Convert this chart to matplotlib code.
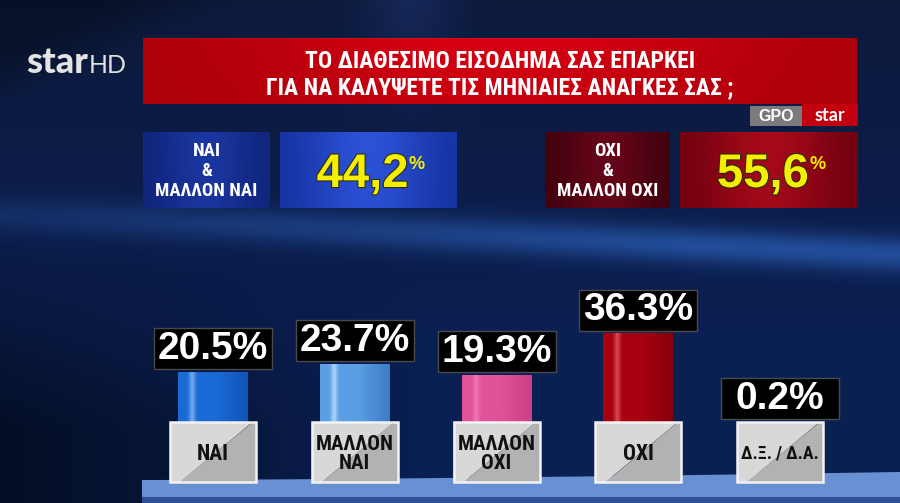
import numpy as np
import matplotlib
matplotlib.use("Agg")
import matplotlib.pyplot as plt
import matplotlib.colors as mcolors
from matplotlib import font_manager as fm
from matplotlib.patches import Rectangle, Polygon
import matplotlib.patheffects as pe

title_lines = ["ΤΟ ΔΙΑΘΕΣΙΜΟ ΕΙΣΟΔΗΜΑ ΣΑΣ ΕΠΑΡΚΕΙ",
               "ΓΙΑ ΝΑ ΚΑΛΥΨΕΤΕ ΤΙΣ ΜΗΝΙΑΙΕΣ ΑΝΑΓΚΕΣ ΣΑΣ ;"]
categories = ["ΝΑΙ", "ΜΑΛΛΟΝ\nΝΑΙ", "ΜΑΛΛΟΝ\nΟΧΙ", "ΟΧΙ", "Δ.Ξ. / Δ.Α."]
values = [20.5, 23.7, 19.3, 36.3, 0.2]
group_labels = ["ΝΑΙ\n&\nΜΑΛΛΟΝ ΝΑΙ", "ΟΧΙ\n&\nΜΑΛΛΟΝ ΟΧΙ"]
group_values = [44.2, 55.6]
source_tags = ["GPO", "star"]

# bar colours: base, highlight, dark side
bar_colors = [("#1a6ad6", "#7db3f2", "#1054b8"),
              ("#5a9ee4", "#b5dafc", "#3d7cc4"),
              ("#e2529a", "#f47ab8", "#cc3f84"),
              ("#a8000f", "#e0505c", "#86000a"),
              ("#888888", "#aaaaaa", "#666666")]


def pick_font(names):
    for n in names:
        try:
            fm.findfont(fm.FontProperties(family=n), fallback_to_default=False)
            return n
        except ValueError:
            pass
    return "DejaVu Sans"


COND = pick_font(["Roboto Condensed", "Liberation Sans Narrow", "Open Sans Condensed"])
SANS = pick_font(["Liberation Sans", "Arial"])
LOGO = pick_font(["Lato", "Roboto"])


def grad_img(c_edge, c_mid, shape=(40, 120), vert=0.25):
    """soft box gradient: brighter in the middle, darker at edges"""
    h, w = shape
    yy, xx = np.mgrid[0:1:h * 1j, 0:1:w * 1j]
    g = np.exp(-((xx - 0.5) / 0.35) ** 2) * (1 - vert * yy)
    a = np.array(mcolors.to_rgb(c_edge))
    b = np.array(mcolors.to_rgb(c_mid))
    return np.clip(a + (b - a) * g[..., None], 0, 1)


def bar_gradient(base, light, dark, n=80):
    t = np.linspace(0, 1, n)
    b, l, d = (np.array(mcolors.to_rgb(c)) for c in (base, light, dark))
    col = b + (d - b) * np.clip((t - 0.55) / 0.45, 0, 1)[:, None]
    hl = np.exp(-((t - 0.2) / 0.045) ** 2)[:, None]
    col = col + (l - col) * hl * 0.85
    return np.clip(col[None, :, :], 0, 1)


fig = plt.figure(figsize=(9, 5.03), dpi=100)
renderer = fig.canvas.get_renderer()


def fit_width(t, max_px):
    w = t.get_window_extent(renderer).width
    if w > max_px:
        t.set_fontsize(t.get_fontsize() * max_px / w)


# ---------- background in pixel coordinates ----------
bg = fig.add_axes([0, 0, 1, 1])
bg.set_xlim(0, 900)
bg.set_ylim(503, 0)
bg.axis("off")

yy, xx = np.mgrid[0:503, 0:900].astype(float)
top = np.array(mcolors.to_rgb("#0d1a3c"))
low = np.array(mcolors.to_rgb("#0a1f52"))
f = np.clip(yy / 330, 0, 1)[..., None]
img = top + (low - top) * f
# darker lower-left corner
dark = np.clip(1 - xx / 420, 0, 1) * np.clip((yy - 230) / 200, 0, 1)
img = img * (1 - 0.55 * dark[..., None])
# darker upper-left wedge
wedge = np.clip((110 - yy - 0.45 * xx) / 60, 0, 1)
img = img * (1 - 0.35 * wedge[..., None])
# light blue swoosh across the middle
yc = 214 + 40 * (xx / 900)
sw = np.exp(-((yy - yc) / 18) ** 2) * (0.35 + 0.65 * np.clip(xx / 700, 0, 1))
swc = np.array(mcolors.to_rgb("#2c60b8"))
img = img + (swc - img) * (0.7 * sw)[..., None]
# faint vertical lighter stripe up top
st = np.exp(-((xx - 410) / 45) ** 2) * np.clip((140 - yy) / 140, 0, 1)
img = img + (np.array(mcolors.to_rgb("#1d3470")) - img) * (0.5 * st)[..., None]
bg.imshow(np.clip(img, 0, 1), extent=(0, 900, 503, 0), aspect="auto", zorder=0)

# floor strip
fx = np.linspace(142, 900, 50)
ftop = 480 - 8 * ((fx - 142) / 758) ** 1.5
floor = Polygon(np.r_[np.c_[fx, ftop], [[900, 498], [142, 498]]],
                closed=True, facecolor="#6a90d4", edgecolor="none", zorder=1)
bg.add_patch(floor)
bg.add_patch(Rectangle((142, 497), 758, 6, facecolor="#2d4f96", edgecolor="none", zorder=1))

# logo
bg.text(26, 73, "star", fontsize=26, fontweight="black", family=LOGO,
        color="#e4e4e4", ha="left", va="baseline", zorder=3)
bg.text(89, 73, "HD", fontsize=18, fontweight="normal", family=LOGO,
        color="#e0e0e0", ha="left", va="baseline", zorder=3)

# title box
bg.imshow(grad_img("#a8000a", "#d80012", vert=0.35), extent=(143, 857, 104, 38),
          aspect="auto", zorder=2)
for k, line in enumerate(title_lines):
    bg.text(500, 61 + 27 * k, line, fontsize=17, fontweight="bold", family=COND,
            color="white", ha="center", va="center", zorder=3)

# source tags
bg.add_patch(Rectangle((750, 106), 52, 20, facecolor="#7b7b7b", edgecolor="none", zorder=2))
bg.add_patch(Rectangle((802, 104), 56, 22, facecolor="#c2000e", edgecolor="none", zorder=2))
bg.text(776, 116.5, source_tags[0], fontsize=11.5, fontweight="bold", family=SANS,
        color="white", ha="center", va="center", zorder=3)
bg.text(830, 115.5, source_tags[1], fontsize=13, fontweight="bold", family=LOGO,
        color="white", ha="center", va="center", zorder=3)

# summary boxes
boxes = [((143, 270), ("#0f2478", "#1a36a0")),
         ((280, 457), ("#15309c", "#2c52d8")),
         ((545, 670), ("#3e000c", "#66061a")),
         ((680, 858), ("#6c000e", "#a60a1a"))]
for (x0, x1), (ce, cm) in boxes:
    bg.imshow(grad_img(ce, cm, vert=0.1), extent=(x0, x1, 208, 132),
              aspect="auto", zorder=2)
for k, lab in enumerate(group_labels):
    (x0, x1), _ = boxes[2 * k]
    bg.text((x0 + x1) / 2, 171, lab, fontsize=13.5, fontweight="bold", family=COND,
            color="white", ha="center", va="center", linespacing=1.15, zorder=3)
    (x0, x1), _ = boxes[2 * k + 1]
    cx = (x0 + x1) / 2 - 6
    t = bg.text(cx, 175, f"{group_values[k]:.1f}".replace(".", ","), fontsize=34,
                fontweight="bold", family=SANS, color="#f4ee00", ha="center",
                va="center", zorder=3)
    t.set_path_effects([pe.withStroke(linewidth=1.5, foreground="#2a2a10")])
    bg.annotate("%", xy=(1, 1), xycoords=t, xytext=(0, -2), textcoords="offset points",
                fontsize=13, fontweight="bold", family=SANS, color="#f4ee00",
                ha="left", va="top", zorder=3)

# ---------- bars in data coordinates ----------
PX_X = 141.75   # pixels per category step
PX_Y = 2.45     # pixels per percentage point
BASE = 81       # baseline height above figure bottom, pixels

ax = fig.add_axes([(213 - PX_X / 2) / 900, 0, 5 * PX_X / 900, 1])
ax.patch.set_alpha(0)
ax.axis("off")

x = np.arange(len(values))
bw = 70 / PX_X
bars = ax.bar(x, values, width=bw, color=[c[0] for c in bar_colors],
              edgecolor="none", zorder=2)
for b, (cb, cl, cd) in zip(bars, bar_colors):
    im = ax.imshow(bar_gradient(cb, cl, cd),
                   extent=(b.get_x(), b.get_x() + b.get_width(), 0, b.get_height()),
                   aspect="auto", interpolation="bilinear", zorder=3)
    im.set_clip_path(b)

ax.set_xlim(-0.5, len(values) - 0.5)
ax.set_ylim(-BASE / PX_Y, (503 - BASE) / PX_Y)

# value boxes
vw, vh, gap = 118 / PX_X, 41 / PX_Y, 2.5 / PX_Y
for xi, v in zip(x, values):
    y0 = v + gap
    ax.add_patch(Rectangle((xi - vw / 2, y0), vw, vh, facecolor="black",
                           edgecolor="#4a4a4a", lw=1.0, zorder=4))
    ax.text(xi, y0 + vh / 2, f"{v:.1f}%", fontsize=28, fontweight="bold",
            family=SANS, color="white", ha="center", va="center", zorder=5)

# category label boxes
lw_, lh = 86 / PX_X, 60 / PX_Y
for xi, lab in zip(x, categories):
    x0, x1, y1, y0 = xi - lw_ / 2, xi + lw_ / 2, 0, -lh
    ax.add_patch(Polygon([[x0, y1], [x1 - 0.04 * lw_, y1], [x0 + 0.12 * lw_, y0], [x0, y0]],
                         facecolor="#d8d8d8", edgecolor="none", zorder=4))
    ax.add_patch(Polygon([[x1 - 0.04 * lw_, y1], [x1, y1], [x1, y0], [x0 + 0.12 * lw_, y0]],
                         facecolor="#b2b2b2", edgecolor="none", zorder=4))
    ax.add_patch(Rectangle((x0, y0), lw_, lh, facecolor="none",
                           edgecolor="#f2f2f2", lw=1.8, zorder=5))
    t = ax.text(xi, -32 / PX_Y, lab, fontsize=15.5, fontweight="bold", family=COND,
                color="#111111", ha="center", va="center", linespacing=1.0, zorder=6)
    fit_width(t, 78)

fig.savefig("out.png", dpi=100)
